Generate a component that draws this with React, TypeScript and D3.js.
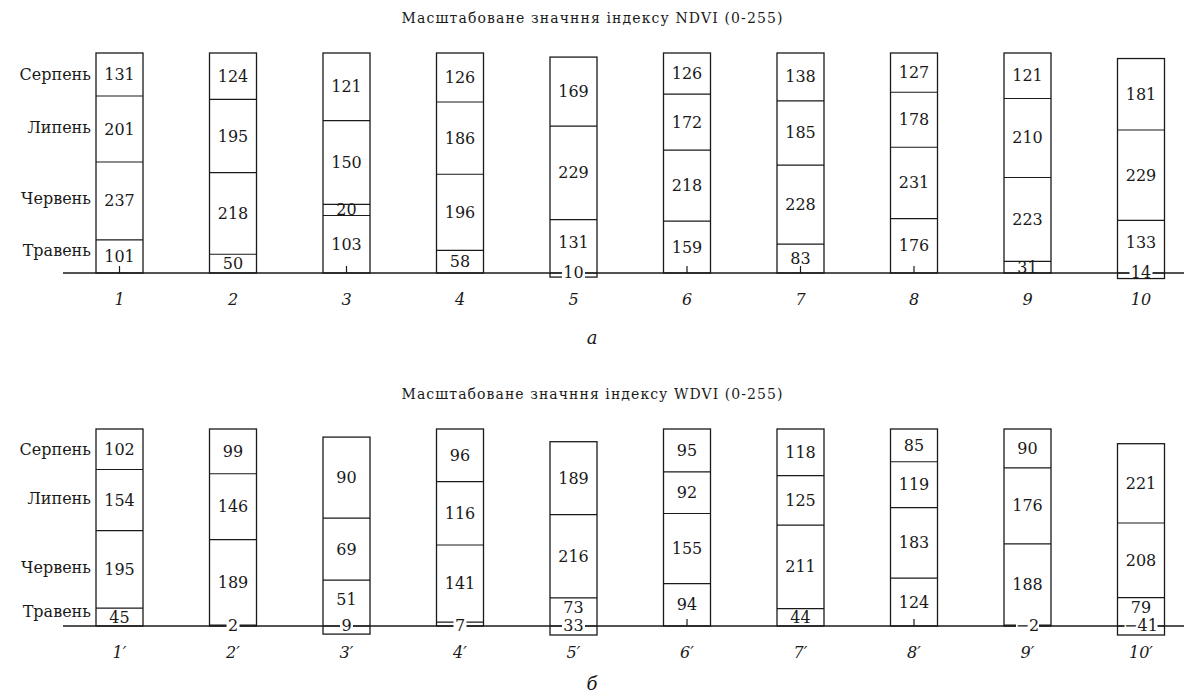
import * as d3 from 'd3';

const months = ['Травень', 'Червень', 'Липень', 'Серпень'];

const ndviNames = ['1', '2', '3', '4', '5', '6', '7', '8', '9', '10'];
const ndviMay = [101, 50, 103, 58, 10, 159, 83, 176, 31, 14];
const ndviJune = [237, 218, 20, 196, 131, 218, 228, 231, 223, 133];
const ndviJuly = [201, 195, 150, 186, 229, 172, 185, 178, 210, 229];
const ndviAug = [131, 124, 121, 126, 169, 126, 138, 127, 121, 181];
// bottom (May) segment drawn hanging below the axis
const ndviHung = [false, false, false, false, true, false, false, false, false, true];

const wdviNames = ['1′', '2′', '3′', '4′', '5′', '6′', '7′', '8′', '9′', '10′'];
const wdviMay = [45, 2, 9, 7, 33, 94, 44, 124, -2, -41];
const wdviJune = [195, 189, 51, 141, 73, 155, 211, 183, 188, 79];
const wdviJuly = [154, 146, 69, 116, 216, 92, 125, 119, 176, 208];
const wdviAug = [102, 99, 90, 96, 189, 95, 118, 85, 90, 221];
const wdviHung = [false, false, true, false, true, false, false, false, false, true];

const FONT = '"DejaVu Serif", serif';
const INK = '#1a1a1a';

const fmt = (v: number) => (v < 0 ? '−' + Math.abs(v) : String(v));

type PanelProps = {
  title: string;
  letter: string;
  letterGap: number;
  names: string[];
  series: number[][];
  hung: boolean[];
  top: number;
  height: number;
};

function Panel({ title, letter, letterGap, names, series, hung, top, height }: PanelProps) {
  const base = top + height; // axis y
  const x = d3.scalePoint<string>().domain(names).range([119.5, 1141]);
  const bw = 47;

  const cols = names.map((name, i) => {
    const vals = series.map((s) => s[i]);
    const total = d3.sum(vals, (v) => Math.abs(v));
    const y = d3.scaleLinear().domain([0, total]).range([0, height]);
    const h0 = y(Math.abs(vals[0]));
    const below = hung[i] ? Math.min(h0, 9) : 0;
    let cur = base;
    const segs = vals.map((v, k) => {
      let y0: number, y1: number;
      if (k === 0) {
        if (hung[i]) {
          y0 = base + below;
          y1 = base;
        } else {
          y0 = base;
          y1 = base - h0;
          cur = y1;
        }
      } else {
        y0 = cur;
        y1 = cur - y(Math.abs(v));
        cur = y1;
      }
      return { v, y0, y1, k };
    });
    return { name, cx: x(name) as number, segs, h0, hung: hung[i] };
  });

  const first = cols[0];

  return (
    <g>
      <text
        x={592}
        y={top - 35}
        textAnchor="middle"
        dominantBaseline="central"
        fontSize={14}
        textLength={381}
        lengthAdjust="spacing"
        fill={INK}
      >
        {title}
      </text>

      {/* row labels follow the first column */}
      {first.segs.map((s, k) => (
        <text
          key={'m' + k}
          x={91}
          y={(s.y0 + s.y1) / 2 - (k === 0 ? 6 : k === 3 ? 0 : 2)}
          textAnchor="end"
          dominantBaseline="central"
          fontSize={16}
          fill={INK}
        >
          {months[k]}
        </text>
      ))}

      <line x1={63} x2={1184} y1={base} y2={base} stroke={INK} strokeWidth={1.3} />

      {cols.map((c) => {
        const topY = c.segs[c.segs.length - 1].y1;
        const botY = c.hung ? c.segs[0].y0 : base;
        return (
          <g key={c.name}>
            {c.segs.slice(1).map((s) => (
              <line
                key={'l' + s.k}
                x1={c.cx - bw / 2}
                x2={c.cx + bw / 2}
                y1={s.y0}
                y2={s.y0}
                stroke={INK}
                strokeWidth={1.2}
              />
            ))}
            <rect
              x={c.cx - bw / 2}
              y={topY}
              width={bw}
              height={botY - topY}
              fill="none"
              stroke={INK}
              strokeWidth={1.3}
            />
            {c.h0 > 24 && !c.hung && (
              <line x1={c.cx} x2={c.cx} y1={base} y2={base - 7} stroke={INK} strokeWidth={1.2} />
            )}
            {c.segs.map((s) => {
              const onAxis = s.k === 0 && (c.hung || c.h0 < 8);
              const nextToAxis = s.k === 1 && c.hung;
              const ty = onAxis ? base - 1 : (s.y0 + s.y1) / 2 - (nextToAxis ? 4 : 0);
              const label = fmt(s.v);
              const w = label.length * 10 + 3;
              return (
                <g key={'t' + s.k}>
                  {onAxis && <rect x={c.cx - w / 2} y={base - 5} width={w} height={10} fill="#fff" />}
                  <text
                    x={c.cx}
                    y={ty}
                    textAnchor="middle"
                    dominantBaseline="central"
                    fontSize={16}
                    fill={INK}
                  >
                    {label}
                  </text>
                </g>
              );
            })}
            <text
              x={c.cx}
              y={base + 26}
              textAnchor="middle"
              dominantBaseline="central"
              fontSize={16}
              fontStyle="italic"
              fill={INK}
            >
              {c.name}
            </text>
          </g>
        );
      })}

      <text
        x={592}
        y={base + letterGap}
        textAnchor="middle"
        dominantBaseline="central"
        fontSize={18}
        fontStyle="italic"
        fill={INK}
      >
        {letter}
      </text>
    </g>
  );
}

export default function App() {
  return (
    <svg
      width={1184}
      height={697}
      style={{ position: 'absolute', left: 0, top: 0, background: '#fff' }}
      fontFamily={FONT}
    >
      <rect width={1184} height={697} fill="#fff" />
      <Panel
        title="Масштабоване значння індексу NDVI (0-255)"
        letter="а"
        letterGap={64}
        names={ndviNames}
        series={[ndviMay, ndviJune, ndviJuly, ndviAug]}
        hung={ndviHung}
        top={53}
        height={220}
      />
      <Panel
        title="Масштабоване значння індексу WDVI (0-255)"
        letter="б"
        letterGap={57}
        names={wdviNames}
        series={[wdviMay, wdviJune, wdviJuly, wdviAug]}
        hung={wdviHung}
        top={429}
        height={197}
      />
    </svg>
  );
}
